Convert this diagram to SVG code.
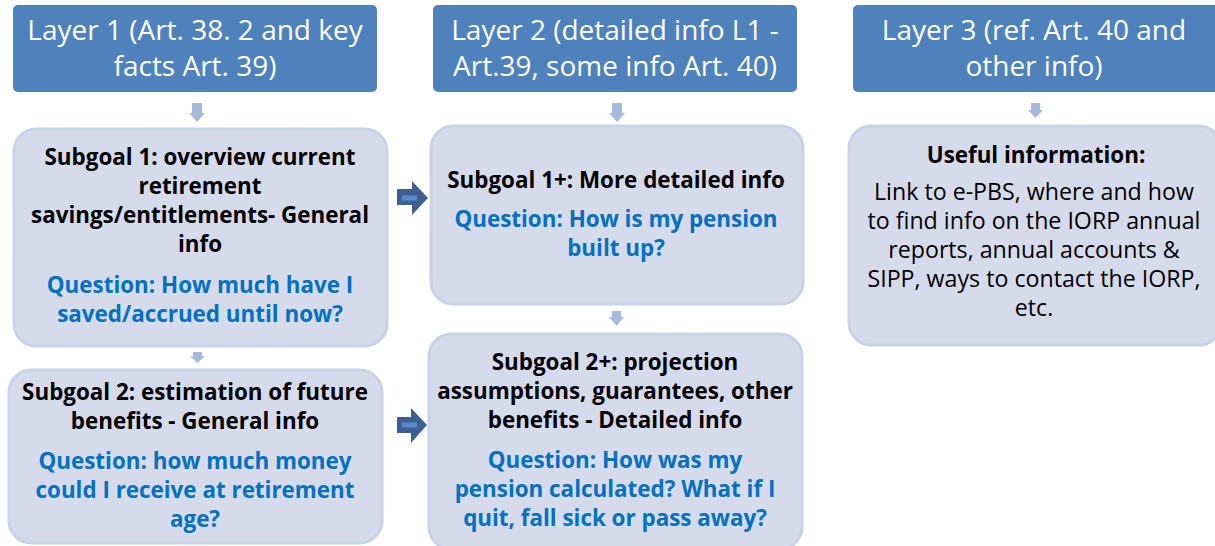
<svg xmlns="http://www.w3.org/2000/svg" width="1215" height="546" viewBox="0 0 1215 546">
<defs>
<style>
.hdr{fill:#4F81BD;}
.hdrt{font-family:"Open Sans",Lato,sans-serif;font-size:28px;fill:#FFFFFF;text-anchor:middle;}
.box{fill:#D5DBEA;stroke:#C9D2E7;stroke-width:3;}
.bt{font-family:"Open Sans",Lato,sans-serif;font-size:22.4px;font-weight:bold;fill:#000000;text-anchor:middle;}
.qt{font-family:"Open Sans",Lato,sans-serif;font-size:22.4px;font-weight:bold;fill:#0070C0;text-anchor:middle;}
.nt{font-family:"Open Sans",Lato,sans-serif;font-size:23.2px;fill:#000000;text-anchor:middle;}
.da{fill:#A8BADB;}
.ra{fill:#3E5F94;}
.rai{fill:#5B89C8;}
</style>
</defs>
<g id="layer1">
<rect class="hdr" x="13" y="5" width="364" height="87" rx="5"/>
<text class="hdrt" x="195" y="40">Layer 1 (Art. 38. 2 and key</text>
<text class="hdrt" x="195" y="76">facts Art. 39)</text>
</g>
<g id="layer2">
<rect class="hdr" x="433" y="5" width="364" height="87" rx="5"/>
<text class="hdrt" x="615" y="40">Layer 2 (detailed info L1 -</text>
<text class="hdrt" x="615" y="76">Art.39, some info Art. 40)</text>
</g>
<g id="layer3">
<rect class="hdr" x="853" y="5" width="368" height="87" rx="5"/>
<text class="hdrt" x="1034" y="40">Layer 3 (ref. Art. 40 and</text>
<text class="hdrt" x="1034" y="76">other info)</text>
</g>
<g id="subgoal1">
<rect class="box" x="14" y="129" width="373" height="217" rx="22"/>
<text class="bt" x="200" y="165">Subgoal 1: overview current</text>
<text class="bt" x="200" y="194">retirement</text>
<text class="bt" x="200" y="223">savings/entitlements- General</text>
<text class="bt" x="200" y="252">info</text>
<text class="qt" x="200" y="293">Question: How much have I</text>
<text class="qt" x="200" y="322">saved/accrued until now?</text>
</g>
<g id="subgoal2">
<rect class="box" x="9" y="370" width="373" height="173" rx="22"/>
<text class="bt" x="195" y="400">Subgoal 2: estimation of future</text>
<text class="bt" x="195" y="429">benefits - General info</text>
<text class="qt" x="195" y="469">Question: how much money</text>
<text class="qt" x="195" y="498">could I receive at retirement</text>
<text class="qt" x="195" y="527">age?</text>
</g>
<g id="subgoal1plus">
<rect class="box" x="431" y="126" width="372" height="178" rx="22"/>
<text class="bt" x="616" y="188">Subgoal 1+: More detailed info</text>
<text class="qt" x="616" y="227">Question: How is my pension</text>
<text class="qt" x="616" y="256">built up?</text>
</g>
<g id="subgoal2plus">
<rect class="box" x="429" y="334" width="373" height="215" rx="22"/>
<text class="bt" x="615" y="370">Subgoal 2+: projection</text>
<text class="bt" x="615" y="399">assumptions, guarantees, other</text>
<text class="bt" x="615" y="428">benefits - Detailed info</text>
<text class="qt" x="615" y="468">Question: How was my</text>
<text class="qt" x="615" y="497">pension calculated? What if I</text>
<text class="qt" x="615" y="526">quit, fall sick or pass away?</text>
</g>
<g id="useful">
<rect class="box" x="849" y="126" width="372" height="219" rx="22"/>
<text class="bt" x="1036" y="163">Useful information:</text>
<text class="nt" x="1034" y="200">Link to e-PBS, where and how</text>
<text class="nt" x="1034" y="229">to find info on the IORP annual</text>
<text class="nt" x="1034" y="258">reports, annual accounts &amp;</text>
<text class="nt" x="1034" y="287">SIPP, ways to contact the IORP,</text>
<text class="nt" x="1034" y="316">etc.</text>
</g>
<g id="connectors">
<polygon class="da" points="192,103 202,103 202,113 205,113 197,122 189,113 192,113"/>
<polygon class="da" points="612,103 622,103 622,113 625,113 617,122 609,113 612,113"/>
<polygon class="da" points="1031,103 1040,103 1040,110 1043,110 1035.5,118 1028,110 1031,110"/>
<polygon class="da" points="193,352 202,352 202,356 205,356 197.5,363 190,356 193,356"/>
<polygon class="da" points="612,311 621,311 621,317 624,317 616.5,326 609,317 612,317"/>
<polygon class="ra" points="397,189 412,189 412,181 428,198 412,215 412,205 397,205"/>
<rect class="rai" x="402" y="195.5" width="15" height="5"/>
<polygon class="ra" points="397,417 411,417 411,408 427,425 411,443 411,433 397,433"/>
<rect class="rai" x="402" y="422.5" width="15" height="5"/>
</g>
</svg>
